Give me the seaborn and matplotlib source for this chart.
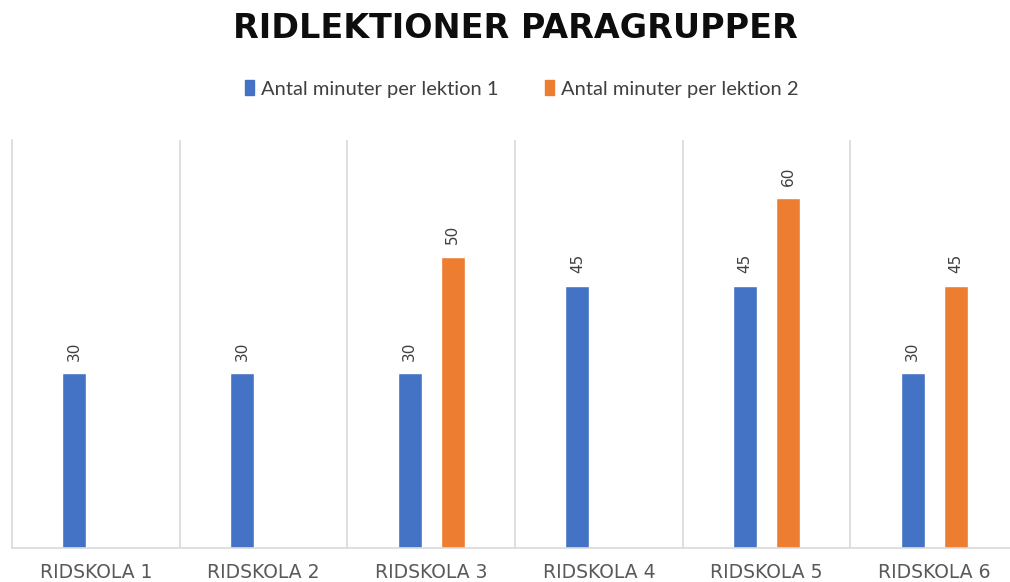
import numpy as np
import pandas as pd
import matplotlib
matplotlib.use("Agg")
import matplotlib.pyplot as plt
import seaborn as sns

categories = ["RIDSKOLA 1", "RIDSKOLA 2", "RIDSKOLA 3", "RIDSKOLA 4", "RIDSKOLA 5", "RIDSKOLA 6"]
series_names = ["Antal minuter per lektion 1", "Antal minuter per lektion 2"]
lektion1 = [30, 30, 30, 45, 45, 30]
lektion2 = [np.nan, np.nan, 50, np.nan, 60, 45]
title = "RIDLEKTIONER PARAGRUPPER"

colors = ["#4472C4", "#ED7D31"]

df = pd.DataFrame({
    "school": categories * 2,
    "series": [series_names[0]] * len(categories) + [series_names[1]] * len(categories),
    "minutes": lektion1 + lektion2,
}).dropna()

sns.set_style("white")
plt.rcParams["font.family"] = ["Lato", "DejaVu Sans"]

fig = plt.figure(figsize=(10.10, 5.82), dpi=100)
ax = fig.add_axes([12 / 1010, 34 / 582, 1006 / 1010, 408 / 582])

sns.barplot(data=df, x="school", y="minutes", hue="series",
            order=categories, hue_order=series_names, palette=colors,
            width=0.51, gap=0.44, errorbar=None, ax=ax, saturation=1)

ax.set_xlim(-0.5, 5.5)
ax.set_ylim(0, 70)
ax.set_xlabel("")
ax.set_ylabel("")
ax.set_yticks([])
ax.tick_params(axis="x", length=0, pad=11, labelcolor="#595959")
for lbl in ax.get_xticklabels():
    lbl.set_fontfamily(["DejaVu Sans"])
    lbl.set_fontsize(13.5)
grid_c = "#D9D9D9"
for sp in ["top", "right"]:
    ax.spines[sp].set_visible(False)
ax.spines["left"].set_color(grid_c)
ax.spines["bottom"].set_color(grid_c)
ax.spines["left"].set_linewidth(1.2)
ax.spines["bottom"].set_linewidth(1.2)
for xb in np.arange(0.5, len(categories) - 0.5, 1):
    ax.axvline(xb, color=grid_c, lw=1.2, zorder=0)

for cont in ax.containers:
    ax.bar_label(cont, fmt="%g", rotation=90, padding=9, fontsize=11,
                 color="#404040", family=["DejaVu Sans"])

ax.get_legend().remove()
handles = [plt.Rectangle((0, 0), 1, 1, color=c) for c in colors]
fig.legend(handles, series_names, loc="center", bbox_to_anchor=(0.517, 1 - 89 / 582),
           ncol=2, frameon=False, fontsize=14.5, handlelength=0.45, handleheight=0.75,
           handletextpad=0.35, columnspacing=2.3, labelcolor="#404040")

fig.text(0.51, 1 - 29 / 582, title, ha="center", va="center", fontsize=24,
         fontweight="bold", color="#0D0D0D", family=["DejaVu Sans"])

fig.savefig("out.png", dpi=100)
